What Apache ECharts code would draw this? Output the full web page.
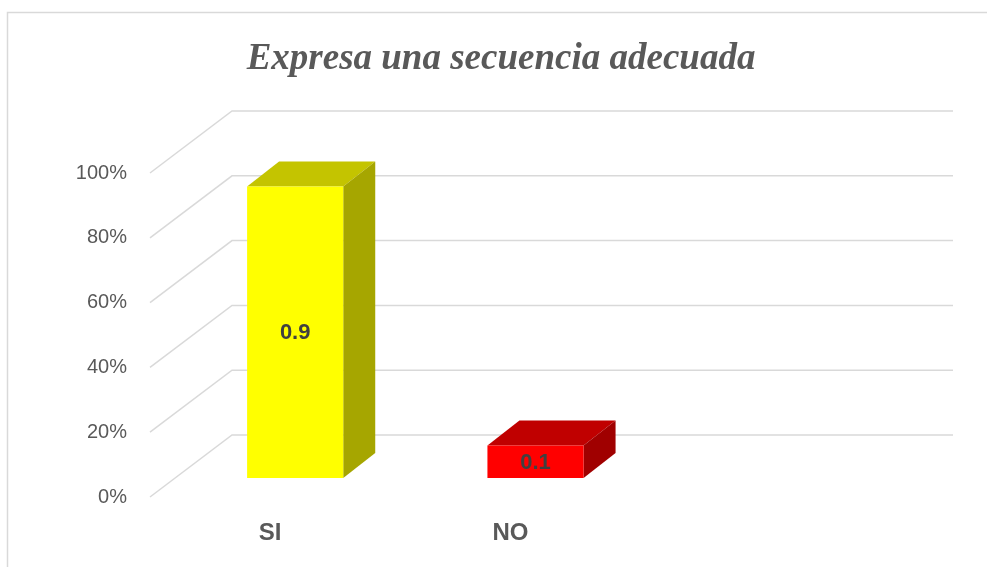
<!DOCTYPE html>
<html>
<head>
<meta charset="utf-8">
<script src="https://cdn.jsdelivr.net/npm/echarts@6/dist/echarts.min.js"></script>
<style>
  html, body { margin: 0; padding: 0; background: #fff; }
  #chart { width: 987px; height: 567px; }
</style>
</head>
<body>
<div id="chart"></div>
<script>
const categories = ["SI", "NO", ""];
const values = [0.9, 0.1];
const tickValues = [0, 0.2, 0.4, 0.6, 0.8, 1];

const frontColors = ["#FFFF00", "#FF0000"];
const topColors = ["#C4C400", "#C00000"];
const sideColors = ["#A6A600", "#A00000"];

// depth of the 3D "room" and of the bars (px)
const WALL_DX = 82, WALL_DY = -62;
const BAR_OX = 25, BAR_OY = -19;
const BAR_DX = 32, BAR_DY = -25;

const chart = echarts.init(document.getElementById("chart"));

function renderGrid(params, api) {
  const y = api.coord([0, api.value(1)])[1];
  const cs = params.coordSys;
  return {
    type: "polyline",
    shape: { points: [[cs.x, y], [cs.x + WALL_DX, y + WALL_DY], [cs.x + cs.width + WALL_DX, y + WALL_DY]] },
    style: { stroke: "#D9D9D9", lineWidth: 1.5, fill: null }
  };
}

function renderBar(params, api) {
  const i = api.value(0);
  const v = api.value(1);
  const base = api.coord([i, 0]);
  const top = api.coord([i, v]);
  const w = api.size([1, 0])[0] * 0.4;
  const x0 = base[0] - w / 2 + BAR_OX, x1 = x0 + w;
  const yb = base[1] + BAR_OY, yt = top[1] + BAR_OY;
  return {
    type: "group",
    children: [
      { type: "polygon", shape: { points: [[x0, yt], [x1, yt], [x1 + BAR_DX, yt + BAR_DY], [x0 + BAR_DX, yt + BAR_DY]] },
        style: { fill: topColors[i] } },
      { type: "polygon", shape: { points: [[x1, yt], [x1 + BAR_DX, yt + BAR_DY], [x1 + BAR_DX, yb + BAR_DY], [x1, yb]] },
        style: { fill: sideColors[i] } },
      { type: "rect", shape: { x: x0, y: yt, width: w, height: yb - yt }, style: { fill: frontColors[i] } },
      { type: "text", style: {
          text: String(v), x: (x0 + x1) / 2, y: (yt + yb) / 2 + 1, align: "center", verticalAlign: "middle",
          font: "bold 22px 'Liberation Sans', Arial, sans-serif", fill: "#404040" } }
    ]
  };
}

chart.setOption({
  animation: false,
  backgroundColor: "#fff",
  title: {
    text: "Expresa una secuencia adecuada",
    left: 496, top: 36, textAlign: "center",
    textStyle: { fontFamily: "'Liberation Serif', 'Times New Roman', serif", fontStyle: "italic",
      fontWeight: "bold", fontSize: 37, color: "#595959" }
  },
  graphic: [{
    type: "rect", left: 5, top: 10, shape: { width: 1000, height: 600 },
    style: { fill: null, stroke: "#D9D9D9", lineWidth: 1.5 }, silent: true
  }],
  grid: { left: 150, right: 116, top: 173, bottom: 70 },
  xAxis: {
    type: "category", data: categories,
    axisLine: { show: false }, axisTick: { show: false },
    axisLabel: { margin: 24, fontSize: 24, fontWeight: "bold", color: "#595959",
      fontFamily: "'Liberation Sans', Arial, sans-serif" }
  },
  yAxis: {
    type: "value", min: 0, max: 1, interval: 0.2,
    axisLine: { show: false }, axisTick: { show: false }, splitLine: { show: false },
    axisLabel: { margin: 23, fontSize: 20, color: "#595959", fontFamily: "'Liberation Sans', Arial, sans-serif",
      formatter: (v) => Math.round(v * 100) + "%" }
  },
  series: [
    { type: "custom", renderItem: renderGrid, data: tickValues.map((v) => [0, v]), z: 1, silent: true },
    { type: "custom", renderItem: renderBar, data: values.map((v, i) => [i, v]), z: 2 }
  ]
});
</script>
</body>
</html>
